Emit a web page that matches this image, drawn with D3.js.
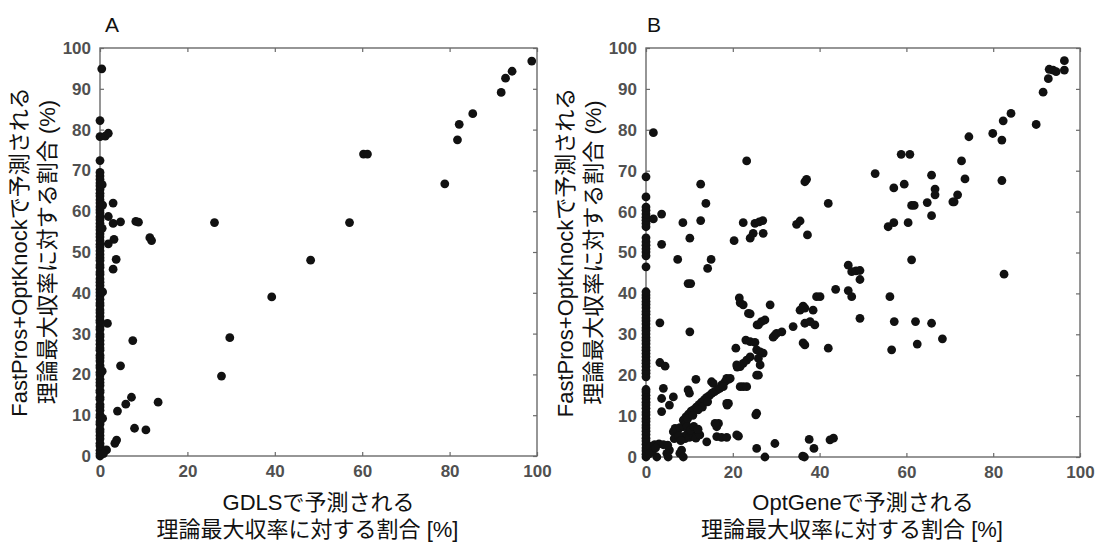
<!DOCTYPE html>
<html>
<head>
<meta charset="utf-8">
<script src="https://cdn.jsdelivr.net/npm/d3@7"></script>
<style>
  body { margin: 0; background: #fff; }
  text { font-family: "Liberation Sans", Arial, "Noto Sans CJK JP", sans-serif; }
</style>
</head>
<body>
<svg id="chart" width="1097" height="542"></svg>
<script>
// tick values and titles
const xTicks = [0, 20, 40, 60, 80, 100];
const yTicks = [0, 10, 20, 30, 40, 50, 60, 70, 80, 90, 100];
const panelLetters = ["A", "B"];
const xTitleA = ["GDLSで予測される", "理論最大収率に対する割合 [%]"];
const xTitleB = ["OptGeneで予測される", "理論最大収率に対する割合 [%]"];
const yTitle = ["FastPros+OptKnockで予測される", "理論最大収率に対する割合 (%)"];

// panel A: strains sitting on x = 0 (GDLS gives nothing), y values only
const colA = [0, 0.6, 1.4, 2.5, 3.1, 4.2, 5, 5.9, 6.5, 7.8, 8.4, 9.5, 10.1, 11.2, 12, 12.6, 13.9, 14.4,
  15.6, 16.1, 17.3, 18, 18.8, 19.9, 20.5, 21.6, 22.2, 23.3, 24.1, 24.7, 25.9, 26.5, 27.4, 28.3, 29.2,
  29.8, 31, 31.6, 32.7, 33.3, 34.2, 35.1, 35.8, 36.9, 37.5, 38.4, 39.3, 40.1, 40.9, 41.8, 42.6, 43.4,
  44.5, 45.1, 46.2, 46.8, 47.9, 48.6, 49.4, 50.3, 51.2, 51.9, 52.8, 53.7, 54.5, 55.4, 56.2, 57, 57.9,
  58.6, 59.6, 60.3, 61.1, 62, 62.8, 63.7, 64.4, 65.3, 66.2, 66.9, 67.8, 68.6, 69.5];

// panel A: other points [GDLS, FastPros+OptKnock]
const pointsA = [
  [0.4, 94.9], [0, 82.2], [0, 78.3], [1.2, 78.4], [1.9, 79.1], [0, 72.4],
  [3, 62], [1.9, 58.7], [3, 57], [4.7, 57.4], [8.2, 57.5], [8.8, 57.3], [11.4, 53.5], [11.8, 52.8],
  [3.2, 53.1], [1.9, 52], [3.7, 48.2], [3, 45.8], [1.7, 32.5], [7.5, 28.3], [4.7, 22.1], [7.2, 14.4],
  [5.9, 12.7], [4, 11], [13.3, 13.2], [7.9, 6.8], [10.5, 6.4], [3.8, 3.9], [3.4, 3.1], [1.5, 1.5], [0.8, 0.6],
  [0.5, 66.5], [0.6, 61.5], [0.5, 55.8], [0.6, 40.2], [0.5, 20.8], [0.6, 9.2],
  [98.8, 96.8], [94.3, 94.3], [92.8, 92.6], [91.8, 89.1], [85.3, 83.9], [82.2, 81.3], [81.8, 77.5],
  [78.9, 66.7], [60.3, 74], [61.2, 74], [57.1, 57.2], [26.2, 57.2], [48.2, 48], [39.3, 39],
  [29.7, 29], [27.8, 19.6]
];

// panel B: strains on x = 0 (OptGene gives nothing)
const colB = [0, 0.7, 1.5, 2.2, 3.1, 3.9, 4.6, 5.5, 6.3, 7.1, 7.8, 8.7, 9.4, 10.3, 11, 11.9, 12.7, 13.4,
  14.3, 15.1, 15.9, 16.5, 19.6, 20.5, 21.2, 22.1, 22.9, 23.6, 24.5, 25.3, 26.1, 26.8, 27.7, 28.5, 29.2,
  30.1, 30.9, 31.6, 32.5, 33.3, 34, 34.9, 35.6, 36.5, 37.3, 38, 38.9, 39.6, 40.4, 46.5, 49.2, 50.1,
  50.9, 51.8, 52.6, 53.6, 56.3, 57.1, 57.9, 58.6, 59.4, 60.3, 61.1, 63.6, 68.5];

// panel B: other points [OptGene, FastPros+OptKnock]
const pointsB = [
  [1.7, 79.3], [23.2, 72.4], [12.6, 66.7], [37, 67.9], [36.6, 67.3], [42, 62], [13.8, 62], [3.6, 59.4],
  [1.7, 58.2], [8.5, 57.3], [12.6, 57.8], [22.4, 57.3], [25.1, 57.1], [26.1, 57.5], [26.9, 57.8],
  [24.7, 54.7], [24, 53.5], [27, 54.7], [20.3, 52.9], [10.1, 53.5], [3.6, 52], [34.7, 56.9], [35.5, 57.7],
  [37.2, 54.3], [7.3, 48.3], [15, 48.3], [14.2, 46.1], [9.7, 42.4], [10.3, 42.4],
  [46.6, 46.9], [47.4, 45.3], [48.4, 45.5], [49.3, 45.6], [49.3, 43.4], [43.7, 41], [46.6, 40.7],
  [47.4, 39.2], [39.3, 39.2], [40.1, 39.2], [28.6, 37.2], [21.5, 38.9], [21.7, 37.7], [22.4, 37.2], [36.2, 36.9],
  [3.2, 32.8], [10.1, 30.6], [3.2, 23.1], [4.4, 22.2], [11.5, 19], [4, 16.8], [3.6, 14.3], [6.3, 14.7],
  [5.4, 12.7], [3.6, 11.1], [9.7, 16.4], [10, 15.6],
  [15.1, 18.4], [15.5, 18], [18.2, 18.4], [19, 19], [18.6, 19.2], [19.4, 19.2], [17.4, 17.6],
  [8.6, 9], [9.2, 9.8], [9.8, 10.5], [10.4, 11.2], [11, 11.6], [11.6, 12.2], [12.2, 12.8], [12.8, 13.4],
  [13.4, 14], [14, 14.6], [14.6, 15], [15.2, 15.6], [15.8, 16], [16.4, 16.4], [17, 16.8], [17.8, 17.2],
  [13, 12.2], [14.2, 13.5], [12, 11.5],
  [6.7, 7], [7.4, 6.8], [6.3, 6.2], [7.1, 6.6], [7.8, 7.2], [8.6, 7.4], [9.2, 8.3], [9.6, 9.4], [10.8, 10.2],
  [8.5, 5], [9, 4.5], [9.5, 5.6], [10, 4.8], [10.5, 5.9], [11, 5], [11.5, 4.6], [12.4, 5.4], [9.4, 7.4],
  [10.2, 6.6], [11, 7.5], [12, 6.8], [6.5, 4.5], [7.5, 5.2], [8, 4],
  [16.7, 8.2], [16.3, 7.4], [15.9, 8.2], [16.3, 5], [17.4, 4.8], [18.6, 4.8], [14, 3.7], [21.3, 5.1],
  [18.7, 12.7], [19, 13.1], [25.3, 10.3], [25.5, 2.1], [27.4, 0], [29.7, 3.3], [36.1, 0.2], [36.5, 0],
  [37.6, 4.3], [38.7, 2.1], [42.4, 4.2], [43.2, 4.6],
  [7.8, 0.9], [8.2, 1.7], [8.6, 0], [5.4, 1.7], [4.8, 0.9], [5.1, 0], [2.5, 0], [1, 2.6], [2, 3], [3, 3.2],
  [4, 3], [5, 2.9], [1.5, 1.5], [0.8, 0.8], [2.2, 2.2],
  [20.7, 26.6], [21, 22], [21.7, 22.1], [22.4, 22.9], [23.2, 23.7], [24, 24.5], [20.9, 22.5], [25.5, 20],
  [25.9, 20], [21.7, 17.2], [22.4, 17.2], [23.2, 17.2], [23, 28.6], [24, 28.2], [25.1, 28], [25.5, 26.2],
  [26.3, 25.7], [27, 25.4], [25.9, 24.1], [26.3, 22.5], [24, 35], [23.6, 35.1], [25.6, 32.3], [25.9, 32.3],
  [26.6, 33.1], [27.4, 33.5], [29.3, 29.3], [29.7, 29.8], [30.1, 30.2], [31.3, 30.6], [33.9, 31.9],
  [35.5, 35.9], [36.2, 36.7], [36.6, 36.4], [36.6, 32.7], [37.8, 33.1], [38.9, 32.3], [38.5, 35.9],
  [36.2, 27.9], [36.6, 27.4], [42, 26.6], [49.3, 33.9], [25.5, 10.7], [18.6, 13.1], [20.9, 5.4],
  [96.4, 96.9], [96.4, 94.6], [92.9, 94.8], [93.8, 94.6], [94.5, 94.2], [92.7, 92.5], [91.5, 89.2],
  [89.9, 81.3], [84.1, 84], [82.3, 82.2], [79.9, 79.1], [82, 77.5], [82, 67.6], [74.4, 78.3], [72.7, 72.4],
  [73.5, 68], [71.8, 64.1], [70.7, 62.4], [71, 62.4], [65.8, 68.9], [66.6, 65.5], [66.6, 64.1], [64.8, 62.2],
  [65.8, 59], [58.8, 74], [60.8, 74], [52.8, 69.3], [57.1, 65.8], [59.5, 66.7], [61.2, 61.5], [61.8, 61.5],
  [55.8, 56.3], [57.1, 57.3], [60.4, 57.3],
  [61.2, 48.2], [82.5, 44.7], [56.2, 39.2], [57.2, 33.1], [62.1, 33.1], [65.8, 32.7], [68.3, 28.9],
  [62.5, 27.6], [56.6, 26.2]
];

const svg = d3.select("#chart");
const axisColor = "#6a6a6a";

const panels = [
  { left: 100, right: 537, bottom: 456, top: 48, col: colA, pts: pointsA, letter: panelLetters[0], xTitle: xTitleA },
  { left: 646, right: 1080, bottom: 457, top: 48, col: colB, pts: pointsB, letter: panelLetters[1], xTitle: xTitleB }
];

function styleAxis(sel, showText) {
  sel.select(".domain").remove();
  sel.selectAll(".tick line").attr("stroke", axisColor).attr("stroke-width", 1.2);
  sel.selectAll(".tick text")
    .attr("fill", "#505050")
    .style("font-size", "17px")
    .style("font-weight", "bold")
    .style("display", showText ? null : "none");
}

panels.forEach((p, k) => {
  const x = d3.scaleLinear().domain([0, 100]).range([p.left, p.right]);
  const y = d3.scaleLinear().domain([0, 100]).range([p.bottom, p.top]);
  const g = svg.append("g");

  g.append("g").attr("transform", `translate(0,${p.bottom})`)
    .call(d3.axisBottom(x).tickValues(xTicks).tickSize(-4).tickPadding(9))
    .call(s => styleAxis(s, true));
  g.append("g").attr("transform", `translate(0,${p.top})`)
    .call(d3.axisTop(x).tickValues(xTicks).tickSize(-4).tickFormat(""))
    .call(s => styleAxis(s, false));
  g.append("g").attr("transform", `translate(${p.left},0)`)
    .call(d3.axisLeft(y).tickValues(yTicks).tickSize(-4).tickPadding(9))
    .call(s => styleAxis(s, true));
  g.append("g").attr("transform", `translate(${p.right},0)`)
    .call(d3.axisRight(y).tickValues(yTicks).tickSize(-4).tickFormat(""))
    .call(s => styleAxis(s, false));

  g.append("rect")
    .attr("x", p.left).attr("y", p.top)
    .attr("width", p.right - p.left).attr("height", p.bottom - p.top)
    .attr("fill", "none").attr("stroke", axisColor).attr("stroke-width", 1.4);

  const all = p.col.map(v => [0, v]).concat(p.pts);
  g.append("g").selectAll("circle").data(all).enter()
    .append("circle")
    .attr("cx", d => x(d[0]))
    .attr("cy", d => y(d[1]))
    .attr("r", 4.4)
    .attr("fill", "#111");

  g.append("text").text(p.letter)
    .attr("x", p.left + (k === 0 ? 5 : 1)).attr("y", 32)
    .style("font-size", "21px").attr("fill", "#111");

  p.xTitle.forEach((t, i) => {
    g.append("text").text(t)
      .attr("x", x(50) - i * 11).attr("y", 510 + i * 27)
      .attr("text-anchor", "middle")
      .style("font-size", "22px").attr("fill", "#111");
  });

  yTitle.forEach((t, i) => {
    g.append("text").text(t)
      .attr("transform", `translate(${p.left - 73 + i * 28},${y(50)}) rotate(-90)`)
      .attr("text-anchor", "middle")
      .style("font-size", "22px").attr("fill", "#111");
  });
});
</script>
</body>
</html>
